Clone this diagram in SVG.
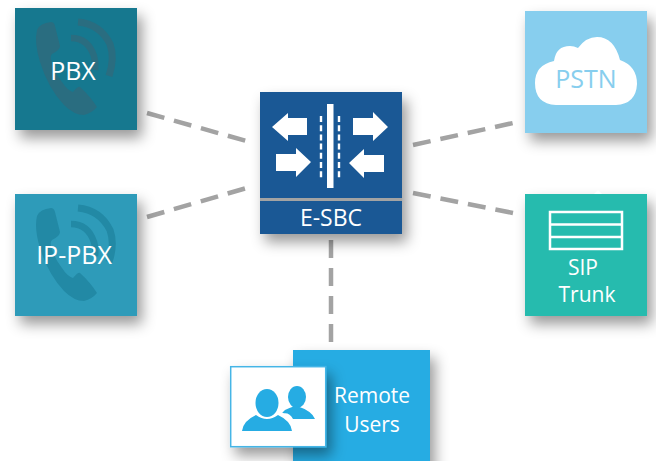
<svg xmlns="http://www.w3.org/2000/svg" xmlns:xlink="http://www.w3.org/1999/xlink" width="656" height="461" viewBox="0 0 656 461">
<style>
text{font-family:"Open Sans","Noto Sans","Liberation Sans",sans-serif;font-weight:400;fill:#fff;text-anchor:middle}
.l25{font-size:25px}.l23{font-size:23px}.l21{font-size:21px}
.dash{fill:none;stroke:#a3a3a3;stroke-width:4.500;stroke-dasharray:18 10}
.w{fill:#fff}
.u{fill:#26ace3}
</style>
<defs>
<filter id="sh" x="-40%" y="-40%" width="190%" height="190%"><feDropShadow dx="5" dy="8" stdDeviation="7" flood-color="#000" flood-opacity=".4"/></filter>
<g id="phone">
<path d="M37 30Q40 23 51 22Q54 22 55 26L60 46Q60 50 52 54Q50 56 51 60Q54 72 62 82Q67 90 73 92Q78 86 80 87Q90 96 97 107Q92 113 84 115Q74 115 64 105Q48 88 40 62Q34 42 37 30Z"/>
<path d="M78 22Q100 24 110 44Q115 58 109 76" fill="none" stroke="currentColor" stroke-width="7"/>
<path d="M71 38Q88 38 94 56Q96 63 95 70" fill="none" stroke="currentColor" stroke-width="6.500"/>
</g>
</defs>
<g id="connectors">
<path class="dash" d="M147 113L250 142"/>
<path class="dash" d="M147 217L250 187"/>
<path class="dash" d="M413 145L513 123"/>
<path class="dash" d="M413 193L513 213"/>
<path class="dash" d="M331 240V345"/>
</g>
<g id="pbx">
<rect x="15" y="8" width="122" height="122" fill="#13788f" filter="url(#sh)"/>
<use xlink:href="#phone" href="#phone" fill="#2a6d80" color="#2a6d80"/>
<text class="l25" x="73" y="80">PBX</text>
</g>
<g id="ip-pbx">
<rect x="15" y="194" width="122" height="122" fill="#2f9bb9" filter="url(#sh)"/>
<use xlink:href="#phone" href="#phone" y="186" fill="#2289a5" color="#2289a5"/>
<text class="l25" x="74" y="264">IP-PBX</text>
</g>
<g id="e-sbc">
<rect x="260" y="92" width="142" height="142" fill="#a3a3a3" filter="url(#sh)"/>
<rect x="260" y="92" width="142" height="106" fill="#1a5895"/>
<rect x="260" y="201" width="142" height="33" fill="#1a5895"/>
<path class="w" d="M272 127L288 113V118H307V135H288V141Z"/>
<path class="w" d="M388 127L373 112V118H353V135H373V141Z"/>
<path class="w" d="M311 162L296 148V154H276V171H296V177Z"/>
<path class="w" d="M349 163L364 149V155H384V172H364V178Z"/>
<rect class="w" x="327" y="104" width="6.500" height="84"/>
<path d="M321 116V180M339 116V180" stroke="#fff" stroke-width="2.400" stroke-dasharray="6 3.200" fill="none"/>
<text class="l23" x="331" y="226">E-SBC</text>
</g>
<g id="pstn">
<rect x="525" y="11" width="122" height="122" fill="#87ceee" filter="url(#sh)"/>
<path class="w" d="M556 105Q535 104 535 83Q535 65 554 61Q556 46 570 46Q574 46 578 48Q586 37 597 37Q614 37 620 60Q637 66 637 84Q636 104 616 105Z"/>
<text class="l25" x="586" y="88" style="fill:#87ceee">PSTN</text>
</g>
<g id="sip-trunk">
<rect x="525" y="194" width="122" height="122" fill="#26bbae" filter="url(#sh)"/>
<path class="w" d="M594 194L598 190L602 194Z"/>
<path d="M550 212H622V249H550ZM550 224.500H622M550 237H622" fill="none" stroke="#fff" stroke-width="2.500"/>
<text class="l21" x="583" y="275">SIP</text>
<text class="l21" x="587" y="302">Trunk</text>
</g>
<g id="remote-users">
<rect x="293" y="350" width="137" height="122" fill="#26ace3" filter="url(#sh)"/>
<rect x="230.700" y="366.700" width="95" height="80" fill="#fff" stroke="#45b5e6" stroke-width="1.500" filter="url(#sh)"/>
<ellipse class="u" cx="297" cy="397" rx="9" ry="11"/>
<path class="u" d="M285 410Q297 405 297 406Q312 411 315 419H293Q289 411 281 414Z"/>
<ellipse cx="267" cy="403" rx="14" ry="16" fill="#fff"/>
<path d="M237 431V425Q240 417 255 412H281Q294 417 295 431Z" fill="#fff"/>
<ellipse class="u" cx="267" cy="403" rx="11.500" ry="14"/>
<path class="u" d="M242 431Q243 421 256 415Q267 423 278 415Q291 421 292 431Z"/>
<text class="l21" x="372" y="403">Remote</text>
<text class="l21" x="372" y="432">Users</text>
</g>
</svg>
